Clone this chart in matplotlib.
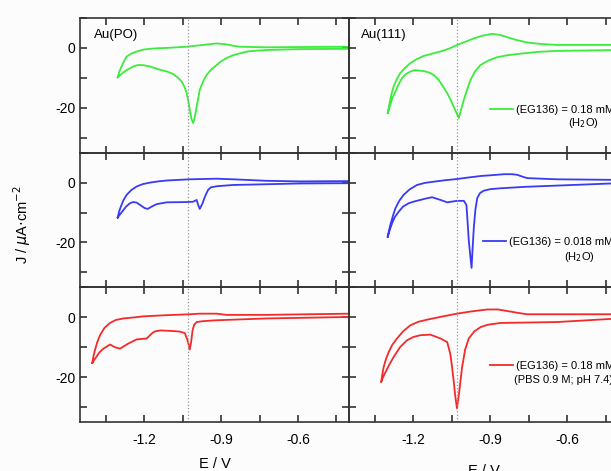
import matplotlib.pyplot as plt
from matplotlib.ticker import MultipleLocator, FixedLocator

plt.rcParams['font.family'] = ['Liberation Sans', 'DejaVu Sans']
plt.rcParams['axes.unicode_minus'] = False

# cyclic voltammograms, E in V, J in uA/cm2 (upper branch then lower branch back)
E_po_h2o = [-1.303, -1.297, -1.288, -1.278, -1.268, -1.250, -1.229, -1.205, -1.177, -1.145,
            -1.112, -1.034, -0.970, -0.917, -0.879, -0.850,
            -0.827, -0.723, -0.593, -0.398,
            -0.398, -0.593, -0.723, -0.790, -0.827, -0.855, -0.879, -0.900, -0.917, -0.938,
            -0.956, -0.970, -0.983, -0.995, -1.003,
            -1.009, -1.016, -1.022, -1.028, -1.034, -1.043, -1.054, -1.070, -1.087, -1.110,
            -1.138, -1.177, -1.200, -1.223, -1.240, -1.255, -1.272,
            -1.288, -1.297, -1.303]
J_po_h2o = [-9.8, -8.0, -6.2, -4.4, -2.9, -1.9, -1.2, -0.6, -0.3, -0.1,
            0.0, 0.4, 1.0, 1.5, 1.2, 0.7,
            0.4, 0.2, 0.3, 0.4,
            -0.3, -0.4, -0.7, -1.1, -1.8, -2.5, -3.4, -4.5, -5.7, -7.2,
            -9.0, -11.2, -14.0, -19.6, -23.5,
            -25.1, -23.5, -20.7, -17.6, -15.1, -12.9, -11.2, -9.8, -8.7, -7.9,
            -7.3, -6.2, -5.8, -5.7, -6.1, -6.8, -7.6,
            -8.7, -9.3, -9.8]

E_111_h2o = [-1.300, -1.295, -1.290, -1.284, -1.277, -1.265, -1.251, -1.232, -1.212, -1.188,
             -1.160, -1.127, -1.094, -1.060, -1.029, -0.996, -0.964, -0.930, -0.893, -0.865,
             -0.834, -0.800, -0.756, -0.700, -0.639, -0.400,
             -0.400, -0.639, -0.710, -0.769, -0.830, -0.873, -0.905, -0.938, -0.960, -0.977,
             -0.990, -1.003, -1.015, -1.023, -1.033,
             -1.043, -1.055, -1.068, -1.085, -1.101, -1.118, -1.134, -1.155, -1.173, -1.195,
             -1.212, -1.230, -1.244, -1.258, -1.270, -1.282, -1.290, -1.300]
J_111_h2o = [-21.8, -19.5, -17.3, -15.0, -12.9, -10.5, -8.4, -6.6, -5.1, -3.8,
             -2.7, -1.9, -1.2, -0.2, 1.0, 2.1, 3.2, 4.1, 4.7, 4.4,
             3.6, 2.7, 1.8, 1.3, 1.0, 1.0,
             -0.7, -1.0, -1.3, -1.8, -2.4, -3.1, -4.1, -5.7, -7.9, -10.7,
             -13.8, -17.3, -21.0, -23.4, -21.5,
             -19.6, -17.3, -15.1, -12.8, -10.7, -9.2, -8.4, -7.8, -7.6, -7.4,
             -7.9, -8.8, -10.1, -12.2, -14.6, -16.8, -19.0, -21.8]

E_po_low = [-1.303, -1.298, -1.291, -1.280, -1.268, -1.250, -1.229, -1.205, -1.177, -1.145,
            -1.112, -1.022, -0.917, -0.853, -0.723,
            -0.593, -0.398,
            -0.398, -0.593, -0.853, -0.915, -0.940, -0.950, -0.957, -0.965, -0.972, -0.983,
            -0.989, -0.995, -1.009,
            -1.034, -1.112, -1.151, -1.170, -1.186, -1.198, -1.210, -1.229, -1.243, -1.255,
            -1.270, -1.281, -1.293, -1.303]
J_po_low = [-11.7, -9.8, -8.1, -5.8, -4.1, -2.5, -1.3, -0.5, 0.0, 0.4,
            0.7, 1.1, 1.3, 1.1, 0.6,
            0.4, 0.5,
            -0.2, -0.3, -0.8, -1.2, -1.6, -2.4, -3.6, -5.2, -6.9, -8.8,
            -7.5, -5.8, -6.4,
            -6.5, -6.6, -7.2, -8.0, -8.8, -8.5, -7.8, -6.7, -6.5, -6.9,
            -8.0, -9.2, -10.5, -11.7]

E_111_low = [-1.300, -1.295, -1.290, -1.280, -1.270, -1.255, -1.238, -1.215, -1.186, -1.155,
             -1.121, -1.075, -1.030, -0.985, -0.938, -0.890, -0.847, -0.815, -0.795,
             -0.775, -0.756, -0.700, -0.639, -0.400,
             -0.400, -0.639, -0.760, -0.860, -0.900, -0.925, -0.940, -0.951, -0.958, -0.964,
             -0.969, -0.973, -0.978, -0.984, -0.989, -0.993, -1.003,
             -1.030, -1.068, -1.094, -1.127, -1.150, -1.173, -1.196, -1.218, -1.240, -1.257,
             -1.272, -1.283, -1.292, -1.300]
J_111_low = [-18.1, -16.0, -14.2, -11.2, -8.6, -6.1, -4.1, -2.3, -0.8, -0.1,
             0.3, 0.8, 1.2, 1.7, 2.2, 2.5, 2.8, 2.8, 2.6,
             2.0, 1.5, 1.3, 1.1, 0.9,
             -0.2, -1.0, -1.4, -1.9, -2.2, -2.7, -3.5, -5.2, -9.0, -14.8,
             -22.0, -28.5, -24.5, -19.2, -12.5, -7.5, -6.1,
             -6.1, -6.6, -5.8, -4.9, -5.3, -5.8, -6.3, -6.9, -8.0, -9.7,
             -11.5, -13.6, -15.8, -18.1]

E_po_pbs = [-1.402, -1.398, -1.392, -1.383, -1.372, -1.355, -1.333, -1.310, -1.281, -1.245,
            -1.203, -1.112, -1.022, -0.983, -0.917,
            -0.879, -0.723, -0.398,
            -0.398, -0.723, -0.917, -0.970, -0.995, -1.005, -1.011, -1.017, -1.022, -1.026,
            -1.031, -1.041, -1.060, -1.087,
            -1.138, -1.160, -1.171, -1.190, -1.229, -1.262, -1.294, -1.314, -1.333, -1.359,
            -1.375, -1.385, -1.395, -1.402]
J_po_pbs = [-15.3, -13.2, -11.1, -8.4, -6.0, -3.6, -1.9, -0.9, -0.4, -0.1,
            0.3, 0.7, 1.0, 1.2, 1.2,
            0.8, 0.8, 1.2,
            0.1, -0.4, -1.0, -1.3, -1.6, -2.5, -4.4, -8.5, -10.8, -9.2,
            -7.7, -5.3, -4.8, -4.6,
            -4.4, -4.8, -5.5, -7.1, -7.4, -8.8, -10.5, -10.0, -9.1, -10.5,
            -11.8, -13.1, -14.3, -15.3]

E_111_pbs = [-1.325, -1.321, -1.316, -1.307, -1.296, -1.282, -1.264, -1.240, -1.212, -1.180,
             -1.146, -1.090, -1.030, -0.970, -0.912, -0.870, -0.834, -0.795, -0.756,
             -0.400,
             -0.400, -0.639, -0.860, -0.910, -0.938, -0.962, -0.984, -0.998, -1.010, -1.022,
             -1.030, -1.037, -1.043, -1.050, -1.056,
             -1.068, -1.094, -1.134, -1.173, -1.200, -1.225, -1.252, -1.277, -1.295, -1.309,
             -1.318, -1.325]
J_111_pbs = [-21.5, -19.0, -16.7, -14.0, -11.6, -9.2, -7.1, -4.7, -2.7, -1.5,
             -0.8, 0.2, 1.2, 2.0, 2.6, 2.6, 2.1, 1.5, 1.0,
             1.0,
             -0.4, -1.6, -1.9, -2.5, -3.3, -4.7, -7.1, -10.8, -16.7, -25.5,
             -30.4, -26.0, -21.1, -16.0, -12.2,
             -8.3, -7.1, -5.8, -6.0, -6.6, -7.7, -10.0, -13.3, -16.0, -18.4,
             -20.0, -21.5]

colors = ['#3cec3c', '#3a3af2', '#f42a2a']
labels = ['(EG136) = 0.18 mM', '(EG136) = 0.018 mM', '(EG136) = 0.18 mM']
sublabels = ['(H$_2$O)', '(H$_2$O)', '(PBS 0.9 M; pH 7.4)']
left_data = [(E_po_h2o, J_po_h2o), (E_po_low, J_po_low), (E_po_pbs, J_po_pbs)]
right_data = [(E_111_h2o, J_111_h2o), (E_111_low, J_111_low), (E_111_pbs, J_111_pbs)]

W, H = 611, 471
fig = plt.figure(figsize=(W / 100, H / 100), dpi=100)
fig.patch.set_facecolor('#fcfcfc')
gs = fig.add_gridspec(3, 2, left=80 / W, right=(349 + 269.5) / W,
                      top=1 - 18 / H, bottom=1 - 422 / H, hspace=0, wspace=0)

leg_pos = [(0.523, 0.318), (0.497, 0.334), (0.523, 0.416)]
sub_pos = [(0.868, 0.222, 'center'), (0.853, 0.228, 'center'), (0.612, 0.312, 'left')]

for r in range(3):
    for c in range(2):
        ax = fig.add_subplot(gs[r, c])
        ax.set_facecolor('none')
        E, J = (left_data if c == 0 else right_data)[r]
        line, = ax.plot(E, J, color=colors[r], lw=1.3)
        ax.axvline(-1.03, color='#999999', ls=':', lw=0.9)
        ax.set_xlim(-1.45, -0.40)
        ax.set_ylim(-35, 10)
        ax.xaxis.set_major_locator(FixedLocator([-1.2, -0.9, -0.6]))
        ax.xaxis.set_minor_locator(FixedLocator([-1.35, -1.05, -0.75, -0.45]))
        ax.yaxis.set_major_locator(MultipleLocator(20))
        ax.yaxis.set_minor_locator(MultipleLocator(10))
        ax.tick_params(which='both', direction='in', top=True, right=True,
                       length=5, width=1.1, labelsize=10, color='#222222')
        ax.tick_params(axis='x', pad=8)
        for s in ax.spines.values():
            s.set_linewidth(1.2)
            s.set_color('#333333')
        if c == 1:
            ax.tick_params(labelleft=False)
        if r < 2:
            ax.tick_params(labelbottom=False)
        if r == 0:
            ax.text(0.052 if c == 0 else 0.043, 0.874, 'Au(PO)' if c == 0 else 'Au(111)',
                    transform=ax.transAxes, fontsize=9.5, va='center')
        if c == 1:
            ax.legend([line], [labels[r]], loc='center left', bbox_to_anchor=leg_pos[r],
                      frameon=False, borderpad=0, borderaxespad=0, handlelength=2.05,
                      handletextpad=0.3, fontsize=8)
            sx, sy, ha = sub_pos[r]
            ax.text(sx, sy, sublabels[r], transform=ax.transAxes, fontsize=8,
                    ha=ha, va='center')
        if r == 2:
            ax.set_xlabel('E / V', fontsize=10.5, labelpad=7 if c == 0 else 12)

fig.text(22 / W, 1 - 225 / H, r'J / $\mu$A$\cdot$cm$^{-2}$', rotation=90,
         fontsize=10.5, ha='center', va='center')

fig.savefig('out.png', dpi=100, facecolor=fig.get_facecolor())
